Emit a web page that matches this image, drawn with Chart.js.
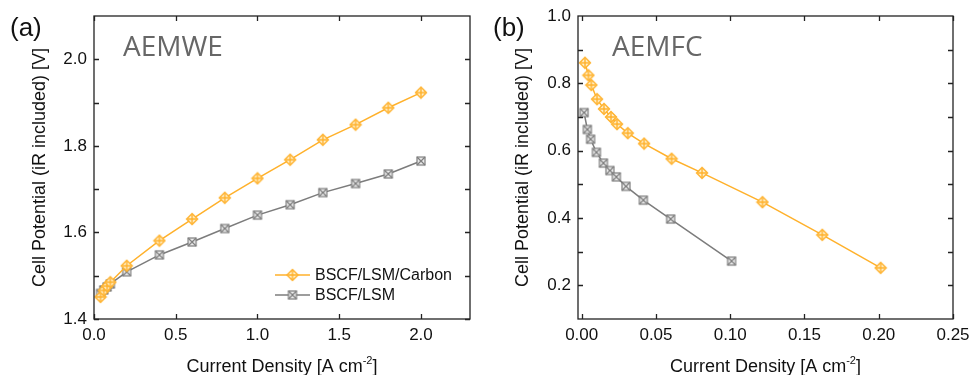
<!DOCTYPE html>
<html>
<head>
<meta charset="utf-8">
<script src="https://cdn.jsdelivr.net/npm/chart.js@4.4.1/dist/chart.umd.min.js"></script>
<style>
    body { margin: 0; background: #fff; }
    #wrap { position: relative; width: 969px; height: 375px; }
    #wrap canvas { position: absolute; top: 0; }
</style>
</head>
<body>
<div id="wrap">
    <canvas id="chartA" width="480" height="375" style="left:0"></canvas>
    <canvas id="chartB" width="489" height="375" style="left:480px"></canvas>
</div>
<script>
// ── Data ───────────────────────────────────────────────────────────────────

const seriesNames = ['BSCF/LSM/Carbon', 'BSCF/LSM'];

// (a) AEMWE
const ewCurrentCarbon = [0.04, 0.06, 0.08, 0.10, 0.20, 0.40, 0.60, 0.80, 1.00, 1.20, 1.40, 1.60, 1.80, 2.00];
const ewVoltCarbon    = [1.451, 1.466, 1.476, 1.485, 1.523, 1.581, 1.631, 1.680, 1.725, 1.768, 1.814, 1.849, 1.888, 1.923];
const ewCurrentPlain  = [0.04, 0.06, 0.08, 0.10, 0.20, 0.40, 0.60, 0.80, 1.00, 1.20, 1.40, 1.60, 1.80, 2.00];
const ewVoltPlain     = [1.459, 1.467, 1.474, 1.481, 1.509, 1.548, 1.578, 1.609, 1.640, 1.664, 1.692, 1.713, 1.735, 1.765];

// (b) AEMFC
const fcCurrentCarbon = [0.0022, 0.0045, 0.0065, 0.0103, 0.0150, 0.0197, 0.0238, 0.0310, 0.0420, 0.0605, 0.0810, 0.1217, 0.1620, 0.2013];
const fcVoltCarbon    = [0.861, 0.824, 0.795, 0.753, 0.724, 0.700, 0.679, 0.652, 0.621, 0.576, 0.534, 0.447, 0.350, 0.252];
const fcCurrentPlain  = [0.0016, 0.0038, 0.0060, 0.0099, 0.0146, 0.0190, 0.0233, 0.0298, 0.0415, 0.0599, 0.1009];
const fcVoltPlain     = [0.713, 0.663, 0.634, 0.595, 0.563, 0.541, 0.522, 0.494, 0.453, 0.397, 0.272];

// tick marks (inward, all four sides)
const ewTicksX = [0, 0.5, 1.0, 1.5, 2.0];
const ewTicksY = [1.4, 1.5, 1.6, 1.7, 1.8, 1.9, 2.0];
const fcTicksX = [0, 0.05, 0.10, 0.15, 0.20, 0.25];
const fcTicksY = [0.2, 0.3, 0.4, 0.5, 0.6, 0.7, 0.8, 0.9];

const ORANGE = '#ffb12b';
const GREY   = '#7c7c7c';
const FONT   = "'Liberation Sans', Arial, sans-serif";

// ── Markers ────────────────────────────────────────────────────────────────

function makeDiamond(color) {
    const c = document.createElement('canvas');
    c.width = c.height = 14;
    const g = c.getContext('2d');
    const m = 7, r = 5.5;
    g.beginPath();
    g.moveTo(m, m - r); g.lineTo(m + r, m); g.lineTo(m, m + r); g.lineTo(m - r, m);
    g.closePath();
    g.fillStyle = 'rgba(255,240,205,0.95)';
    g.fill();
    g.strokeStyle = color;
    g.lineWidth = 1.4;
    g.stroke();
    g.beginPath();
    g.moveTo(m, m - r + 1); g.lineTo(m, m + r - 1);
    g.moveTo(m - r + 1, m); g.lineTo(m + r - 1, m);
    g.stroke();
    return c;
}

function makeBoxX(color) {
    const c = document.createElement('canvas');
    c.width = c.height = 14;
    const g = c.getContext('2d');
    const a = 3, b = 11;
    g.fillStyle = 'rgba(236,236,236,0.95)';
    g.fillRect(a, a, b - a, b - a);
    g.strokeStyle = color;
    g.lineWidth = 1.2;
    g.strokeRect(a, a, b - a, b - a);
    g.beginPath();
    g.moveTo(a, a); g.lineTo(b, b);
    g.moveTo(b, a); g.lineTo(a, b);
    g.stroke();
    return c;
}

const diamondMark = makeDiamond(ORANGE);
const boxMark     = makeBoxX(GREY);

const toPoints = (xs, ys) => xs.map((x, i) => ({ x, y: ys[i] }));

// ── Plugins ────────────────────────────────────────────────────────────────

const frameTicks = {
    id: 'frameTicks',
    afterDraw(chart, args, opts) {
        const { ctx, chartArea: a, scales: { x, y } } = chart;
        const len = 5;
        ctx.save();
        ctx.strokeStyle = '#222';
        ctx.lineWidth = 1.3;
        ctx.strokeRect(a.left, a.top, a.right - a.left, a.bottom - a.top);
        ctx.beginPath();
        opts.xTicks.forEach(v => {
            const px = Math.round(x.getPixelForValue(v)) + 0.5;
            ctx.moveTo(px, a.bottom); ctx.lineTo(px, a.bottom - len);
            ctx.moveTo(px, a.top);    ctx.lineTo(px, a.top + len);
        });
        opts.yTicks.forEach(v => {
            const py = Math.round(y.getPixelForValue(v)) + 0.5;
            ctx.moveTo(a.left, py);  ctx.lineTo(a.left + len, py);
            ctx.moveTo(a.right, py); ctx.lineTo(a.right - len, py);
        });
        ctx.stroke();

        // panel tag + name
        ctx.fillStyle = '#111';
        ctx.font = `26px ${FONT}`;
        ctx.textBaseline = 'alphabetic';
        ctx.fillText(opts.tag, opts.tagX, 36);
        ctx.fillStyle = '#676767';
        ctx.font = "28px 'Open Sans', 'Noto Sans', sans-serif";
        ctx.fillText(opts.name, a.left + opts.nameDx, 56);

        // x title with superscript
        ctx.fillStyle = '#111';
        const main = 'Current Density [A cm', sup = '-2', tail = ']';
        ctx.font = `18px ${FONT}`;
        const wMain = ctx.measureText(main).width;
        const wTail = ctx.measureText(tail).width;
        ctx.font = `11px ${FONT}`;
        const wSup = ctx.measureText(sup).width;
        let tx = (a.left + a.right) / 2 - (wMain + wSup + wTail) / 2;
        const base = 372;
        ctx.font = `18px ${FONT}`;
        ctx.fillText(main, tx, base);
        tx += wMain;
        ctx.font = `11px ${FONT}`;
        ctx.fillText(sup, tx, base - 8);
        tx += wSup;
        ctx.font = `18px ${FONT}`;
        ctx.fillText(tail, tx, base);
        ctx.restore();
    },
};

const lineLegend = {
    id: 'lineLegend',
    afterDraw(chart, args, opts) {
        if (!opts.show) return;
        const { ctx } = chart;
        ctx.save();
        chart.data.datasets.forEach((ds, i) => {
            const y = opts.y + i * 20;
            ctx.strokeStyle = ds.borderColor;
            ctx.lineWidth = 1.5;
            ctx.beginPath();
            ctx.moveTo(opts.x, y); ctx.lineTo(opts.x + 35, y);
            ctx.stroke();
            ctx.drawImage(ds.pointStyle, opts.x + 17.5 - 7, y - 7);
            ctx.fillStyle = '#111';
            ctx.font = `16px ${FONT}`;
            ctx.textBaseline = 'middle';
            ctx.fillText(ds.label, opts.x + 40, y + 1);
        });
        ctx.restore();
    },
};

// ── Charts ─────────────────────────────────────────────────────────────────

Chart.defaults.font.family = FONT;
Chart.defaults.color = '#111';

function buildChart(id, cfg) {
    return new Chart(document.getElementById(id).getContext('2d'), {
        type: 'line',
        data: {
            datasets: [
                {
                    label: seriesNames[0],
                    data: toPoints(cfg.carbonX, cfg.carbonY),
                    borderColor: ORANGE,
                    borderWidth: 1.5,
                    pointStyle: diamondMark,
                    pointRadius: 5,
                    tension: 0,
                },
                {
                    label: seriesNames[1],
                    data: toPoints(cfg.plainX, cfg.plainY),
                    borderColor: GREY,
                    borderWidth: 1.5,
                    pointStyle: boxMark,
                    pointRadius: 5,
                    tension: 0,
                },
            ],
        },
        options: {
            responsive: false,
            animation: false,
            layout: { padding: { left: 0, top: 16, right: cfg.padRight, bottom: 0 } },
            plugins: {
                legend: { display: false },
                tooltip: { enabled: false },
                frameTicks: { xTicks: cfg.ticksX, yTicks: cfg.ticksY, tag: cfg.tag, tagX: cfg.tagX, name: cfg.name, nameDx: cfg.nameDx },
                lineLegend: { show: cfg.legend, x: 275, y: 275 },
            },
            scales: {
                x: {
                    type: 'linear',
                    min: cfg.xMin, max: cfg.xMax,
                    grid: { display: false, drawTicks: false },
                    border: { display: false },
                    ticks: {
                        stepSize: cfg.xStep, includeBounds: false, padding: 6, maxRotation: 0,
                        font: { size: 17 },
                        callback: v => v.toFixed(cfg.xDec),
                    },
                    afterFit: s => { s.height = 56; s.paddingLeft = 0; s.paddingRight = 0; },
                },
                y: {
                    type: 'linear',
                    min: cfg.yMin, max: cfg.yMax,
                    grid: { display: false, drawTicks: false },
                    border: { display: false },
                    title: {
                        display: true,
                        text: 'Cell Potential (iR included) [V]',
                        font: { size: 18, lineHeight: 1 },
                        padding: { top: cfg.titlePad, bottom: 0 },
                    },
                    ticks: {
                        stepSize: 0.2, includeBounds: false, padding: 7,
                        font: { size: 17 },
                        callback: v => v.toFixed(1),
                    },
                    afterFit: s => { s.width = cfg.yWidth; s.paddingTop = 0; s.paddingBottom = 0; },
                },
            },
        },
        plugins: [frameTicks, lineLegend],
    });
}

buildChart('chartA', {
    carbonX: ewCurrentCarbon, carbonY: ewVoltCarbon,
    plainX: ewCurrentPlain, plainY: ewVoltPlain,
    ticksX: ewTicksX, ticksY: ewTicksY,
    xMin: 0, xMax: 2.3, xStep: 0.5, xDec: 1,
    yMin: 1.4, yMax: 2.1,
    yWidth: 94, padRight: 10, titlePad: 31,
    tag: '(a)', tagX: 10, name: 'AEMWE', nameDx: 29,
    legend: true,
});

buildChart('chartB', {
    carbonX: fcCurrentCarbon, carbonY: fcVoltCarbon,
    plainX: fcCurrentPlain, plainY: fcVoltPlain,
    ticksX: fcTicksX, ticksY: fcTicksY,
    xMin: -0.0025, xMax: 0.25, xStep: 0.05, xDec: 2,
    yMin: 0.1, yMax: 1.0,
    yWidth: 98, padRight: 16, titlePad: 34,
    tag: '(b)', tagX: 13, name: 'AEMFC', nameDx: 34,
    legend: false,
});
</script>
</body>
</html>
